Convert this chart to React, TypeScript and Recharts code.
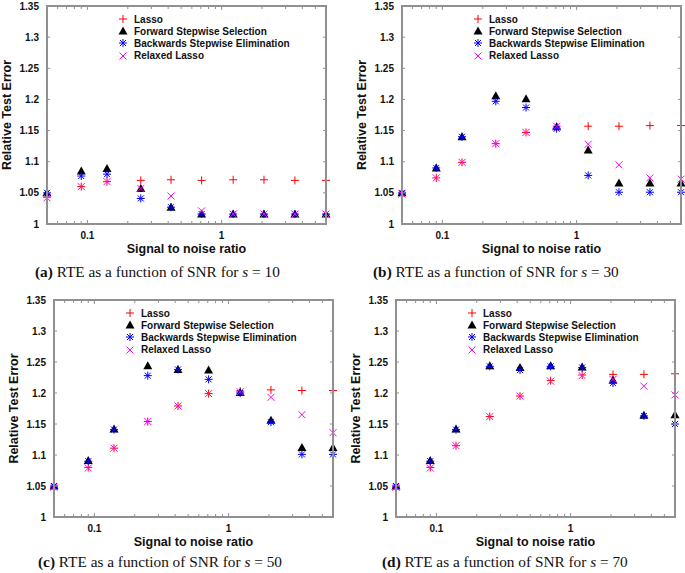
import React from 'react';
import { ScatterChart, Scatter, XAxis, YAxis, Legend, ReferenceLine } from 'recharts';

// SNR grid used in every panel
const snr = [0.05, 0.09, 0.14, 0.25, 0.42, 0.71, 1.22, 2.07, 3.52, 6.0];
const xTicks = [0.06, 0.07, 0.08, 0.09, 0.1, 0.2, 0.3, 0.4, 0.5, 0.6, 0.7, 0.8, 0.9, 1, 2, 3, 4, 5, 6];
const xLabels = [0.1, 1];
const yTicks = [1, 1.05, 1.1, 1.15, 1.2, 1.25, 1.3, 1.35];
const seriesNames = ['Lasso', 'Forward Stepwise Selection', 'Backwards Stepwise Elimination', 'Relaxed Lasso'];

// s = 10
const lasso10 = [1.043, 1.06, 1.068, 1.07, 1.071, 1.07, 1.071, 1.071, 1.07, 1.07];
const forward10 = [1.05, 1.085, 1.089, 1.057, 1.027, 1.016, 1.016, 1.016, 1.016, 1.016];
const backward10 = [1.05, 1.077, 1.08, 1.041, 1.027, 1.016, 1.016, 1.016, 1.016, 1.016];
const relaxed10 = [1.042, 1.06, 1.068, 1.057, 1.045, 1.021, 1.016, 1.016, 1.016, 1.016];

// s = 30
const lasso30 = [1.048, 1.074, 1.099, 1.129, 1.147, 1.156, 1.157, 1.157, 1.158, 1.158];
const forward30 = [1.05, 1.09, 1.14, 1.206, 1.201, 1.156, 1.119, 1.066, 1.066, 1.066];
const backward30 = [1.05, 1.09, 1.14, 1.197, 1.187, 1.153, 1.078, 1.051, 1.051, 1.051];
const relaxed30 = [1.048, 1.074, 1.099, 1.129, 1.147, 1.157, 1.128, 1.095, 1.074, 1.072];

// s = 50
const lasso50 = [1.048, 1.08, 1.111, 1.154, 1.179, 1.199, 1.203, 1.205, 1.204, 1.204];
const forward50 = [1.05, 1.091, 1.142, 1.244, 1.238, 1.237, 1.201, 1.156, 1.112, 1.112];
const backward50 = [1.05, 1.09, 1.141, 1.228, 1.238, 1.222, 1.2, 1.153, 1.101, 1.101];
const relaxed50 = [1.048, 1.079, 1.111, 1.154, 1.179, 1.199, 1.202, 1.193, 1.165, 1.136];

// s = 70
const lasso70 = [1.048, 1.08, 1.115, 1.162, 1.195, 1.22, 1.229, 1.23, 1.23, 1.231];
const forward70 = [1.05, 1.091, 1.142, 1.244, 1.241, 1.244, 1.242, 1.221, 1.164, 1.165];
const backward70 = [1.05, 1.09, 1.141, 1.243, 1.237, 1.243, 1.241, 1.216, 1.163, 1.15];
const relaxed70 = [1.048, 1.079, 1.115, 1.162, 1.195, 1.219, 1.228, 1.222, 1.211, 1.197];

const AXIS = '#909090';
const SANS = '"Liberation Sans", Arial, sans-serif';

const toPoints = (vals: number[]) => snr.map((x, i) => ({ x, y: vals[i] }));

const Plus = ({ cx, cy }: any) => (
  <path d={`M${cx - 4},${cy}H${cx + 4}M${cx},${cy - 4}V${cy + 4}`} stroke="#ff0000" strokeWidth={1} fill="none" />
);
const Tri = ({ cx, cy }: any) => (
  <polygon points={`${cx},${cy - 4.5} ${cx - 4.5},${cy + 3.5} ${cx + 4.5},${cy + 3.5}`} fill="#000" />
);
const Star = ({ cx, cy }: any) => (
  <path
    d={`M${cx - 4},${cy}H${cx + 4}M${cx},${cy - 4}V${cy + 4}M${cx - 3},${cy - 3}L${cx + 3},${cy + 3}M${cx - 3},${cy + 3}L${cx + 3},${cy - 3}`}
    stroke="#0000ff" strokeWidth={1} fill="none"
  />
);
const Cross = ({ cx, cy }: any) => (
  <path d={`M${cx - 3.5},${cy - 3.5}L${cx + 3.5},${cy + 3.5}M${cx - 3.5},${cy + 3.5}L${cx + 3.5},${cy - 3.5}`} stroke="#ff00ff" strokeWidth={1} fill="none" />
);
const markers = [Plus, Tri, Star, Cross];

const fmtY = (v: number) => String(Number(v.toFixed(2)));
const seg = (x1: number, y1: number, x2: number, y2: number) => (
  <path d={`M${x1},${y1}L${x2},${y2}`} stroke={AXIS} strokeWidth={1} fill="none" />
);

const BottomTick = ({ x, y, payload }: any) => {
  const major = xLabels.includes(payload.value);
  return (
    <g>
      {seg(x, y, x, y - (major ? 4 : 3))}
      {major && (
        <text x={x} y={y + 15} textAnchor="middle" fontFamily={SANS} fontWeight="bold" fontSize={10} fill="#111">
          {payload.value}
        </text>
      )}
    </g>
  );
};
const LeftTick = ({ x, y, payload }: any) => (
  <g>
    {seg(x, y, x + 3, y)}
    <text x={x - 8} y={y + 3.5} textAnchor="end" fontFamily={SANS} fontWeight="bold" fontSize={10} fill="#111">
      {fmtY(payload.value)}
    </text>
  </g>
);

// mirrored ticks on the top and right edges of the box
const topTick = (len: number) => (p: any) => {
  const top = Math.min(p.y1, p.y2);
  return seg(p.x1, top, p.x1, top + len);
};
const rightTick = (p: any) => {
  const right = Math.max(p.x1, p.x2);
  return seg(right, p.y1, right - 3, p.y1);
};

const renderLegend = () => (
  <div style={{ fontFamily: SANS, fontWeight: 'bold', fontSize: 10, color: '#111' }}>
    {seriesNames.map((name, i) => {
      const M = markers[i];
      return (
        <div key={name} style={{ display: 'flex', alignItems: 'center', height: 12.2, whiteSpace: 'nowrap' }}>
          <svg width={12} height={12} style={{ marginRight: 5 }}>
            <M cx={6} cy={6} />
          </svg>
          <span>{name}</span>
        </div>
      );
    })}
  </div>
);

type Box = { L: number; T: number; R: number; B: number };

const Panel = ({ tag, s, series, box, capX, capY }: { tag: string; s: number; series: number[][]; box: Box; capX: number; capY: number }) => {
  const w = box.R - box.L + 60;
  const h = box.B - box.T + 46;
  return (
    <>
      <div style={{ position: 'absolute', left: box.L - 50, top: box.T - 6 }}>
        <ScatterChart width={w} height={h} margin={{ top: 6, right: 10, bottom: 0, left: 0 }}>
          <XAxis
            dataKey="x" type="number" scale="log" domain={[0.05, 6]}
            ticks={xTicks} interval={0} tick={(p: any) => <BottomTick {...p} />} tickLine={false}
            tickSize={0} tickMargin={0} height={40} axisLine={false}
            label={(p: any) => {
              const vb = p.viewBox;
              return (
                <text x={vb.x + vb.width / 2} y={vb.y + 29} textAnchor="middle" fontFamily={SANS} fontWeight="bold" fontSize={12.5} fill="#111">
                  Signal to noise ratio
                </text>
              );
            }}
          />
          <YAxis
            dataKey="y" type="number" domain={[1, 1.35]} ticks={yTicks} interval={0}
            tick={(p: any) => <LeftTick {...p} />} tickLine={false} tickSize={0} tickMargin={0} width={50}
            axisLine={false}
            label={(p: any) => {
              const vb = p.viewBox;
              const cx = vb.x + 10;
              const cy = vb.y + vb.height / 2;
              return (
                <text x={cx} y={cy} transform={`rotate(-90 ${cx} ${cy})`} textAnchor="middle" dominantBaseline="central"
                  fontFamily={SANS} fontWeight="bold" fontSize={12.5} fill="#111">
                  Relative Test Error
                </text>
              );
            }}
          />
          {xTicks.map((v) => (
            <ReferenceLine key={`tx${v}`} x={v} shape={topTick(xLabels.includes(v) ? 4 : 3)} />
          ))}
          {yTicks.map((v) => (
            <ReferenceLine key={`ry${v}`} y={v} shape={rightTick} />
          ))}
          <Legend layout="vertical" align="center" verticalAlign="middle" content={renderLegend}
            wrapperStyle={{ left: 120, top: 13, width: 230 }} />
          {series.map((vals, i) => {
            const M = markers[i];
            return (
              <Scatter key={seriesNames[i]} name={seriesNames[i]} data={toPoints(vals)} isAnimationActive={false}
                shape={(p: any) => <M cx={p.cx} cy={p.cy} />} />
            );
          })}
        </ScatterChart>
      </div>
      {/* plot frame, drawn on top */}
      <div style={{ position: 'absolute', boxSizing: 'border-box', left: box.L - 1, top: box.T - 1, width: box.R - box.L + 2, height: box.B - box.T + 2, border: `2px solid ${AXIS}`, pointerEvents: 'none' }} />
      <div style={{ position: 'absolute', left: capX, top: capY - 10, fontFamily: '"Liberation Serif", "DejaVu Serif", serif', fontSize: 15.3, whiteSpace: 'nowrap', color: '#111' }}>
        <b>({tag})</b> RTE as a function of SNR for <i>s</i> = {s}
      </div>
    </>
  );
};

export default function App() {
  return (
    <div style={{ position: 'absolute', left: 0, top: 0, width: 685, height: 573, background: '#fff', overflow: 'hidden' }}>
      <Panel tag="a" s={10} series={[lasso10, forward10, backward10, relaxed10]} box={{ L: 47, T: 6, R: 326, B: 224 }} capX={35} capY={273} />
      <Panel tag="b" s={30} series={[lasso30, forward30, backward30, relaxed30]} box={{ L: 402, T: 6, R: 681, B: 224 }} capX={373} capY={273} />
      <Panel tag="c" s={50} series={[lasso50, forward50, backward50, relaxed50]} box={{ L: 54, T: 300, R: 333, B: 517 }} capX={38} capY={563} />
      <Panel tag="d" s={70} series={[lasso70, forward70, backward70, relaxed70]} box={{ L: 396, T: 300, R: 675, B: 517 }} capX={382} capY={563} />
    </div>
  );
}
